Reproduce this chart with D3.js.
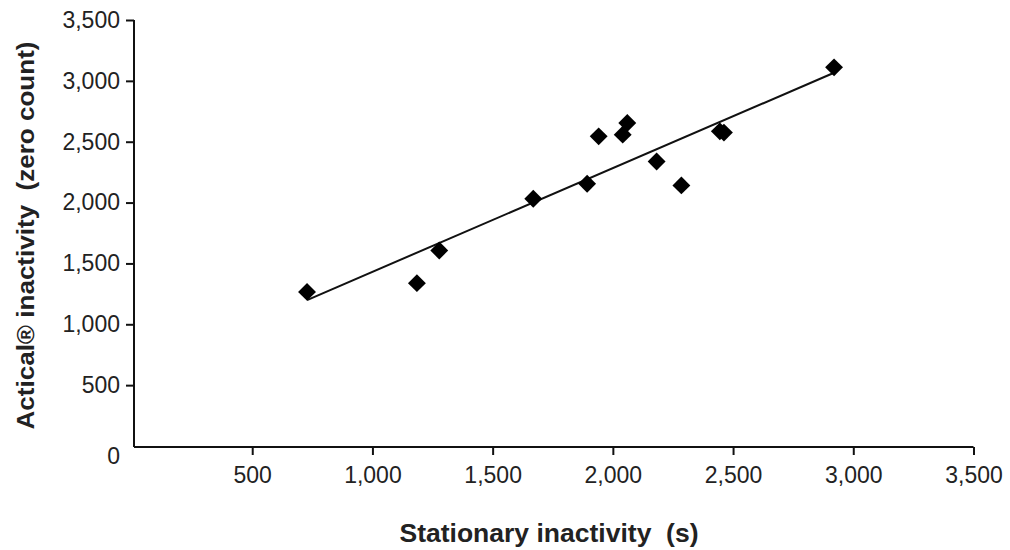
<!DOCTYPE html>
<html lang="en">
<head>
    <meta charset="UTF-8">
    <title>Actical vs stationary inactivity</title>
    <script src="https://unpkg.com/d3@7.8.5/dist/d3.min.js"></script>
    <style>
        body { margin: 0; background: #fff; }
        text { font-family: "Liberation Sans", Arial, sans-serif; fill: #222; }
    </style>
</head>
<body>
    <svg width="1010" height="550"></svg>
    <script>
        // data
        var stationary = [728, 1185, 1278, 1669, 1893, 1941, 2041, 2060, 2182, 2285, 2445, 2462, 2920]
        var actical = [1266, 1338, 1606, 2031, 2155, 2544, 2558, 2654, 2338, 2141, 2585, 2575, 3111]
        var xTicks = [500, 1000, 1500, 2000, 2500, 3000, 3500]
        var yTicks = [0, 500, 1000, 1500, 2000, 2500, 3000, 3500]

        var svg = d3.select('svg')

        var x = d3.scaleLinear().domain([0, 3500]).range([132, 973.5])
        var y = d3.scaleLinear().domain([0, 3500]).range([446, 20])
        var fmt = d3.format(',')

        // axes
        var gx = svg.append('g').attr('transform', 'translate(0,447)')
            .call(d3.axisBottom(x).tickValues(xTicks).tickFormat(fmt).tickSize(8).tickPadding(12).tickSizeOuter(0))
        gx.select('.domain').attr('d', 'M134,0H' + x(3500))
        var gy = svg.append('g').attr('transform', 'translate(134,0)')
            .call(d3.axisLeft(y).tickValues(yTicks).tickFormat(fmt).tickSize(8).tickPadding(6).tickSizeOuter(0))
        gy.select('.domain').attr('d', 'M0,' + y(3500) + 'V447')
        // no tick mark at 0, its label sits a bit lower
        gy.selectAll('.tick').filter(d => d === 0).select('line').remove()
        gy.selectAll('.tick').filter(d => d === 0).select('text').attr('dy', '0.78em')

        svg.selectAll('.domain, .tick line').attr('stroke', '#111').attr('stroke-width', 2)
        svg.selectAll('.tick text').attr('font-size', 23).attr('fill', '#222')
            .attr('font-family', '"Liberation Sans", Arial, sans-serif')

        // regression line
        var pts = stationary.map((v, i) => [v, actical[i]])
        var mx = d3.mean(stationary), my = d3.mean(actical)
        var slope = d3.sum(pts, p => (p[0] - mx) * (p[1] - my)) / d3.sum(pts, p => (p[0] - mx) * (p[0] - mx))
        var icpt = my - slope * mx
        var ext = d3.extent(stationary)
        svg.append('path')
            .attr('d', d3.line().x(d => x(d)).y(d => y(icpt + slope * d))(ext))
            .attr('stroke', '#111').attr('stroke-width', 2).attr('fill', 'none')

        // points (diamonds)
        svg.selectAll('.pt').data(pts).enter()
            .append('path')
            .attr('class', 'pt')
            .attr('d', d3.symbol().type(d3.symbolSquare).size(160))
            .attr('transform', d => 'translate(' + x(d[0]) + ',' + y(d[1]) + ') rotate(45)')
            .attr('fill', '#000')

        // axis titles
        svg.append('text')
            .attr('x', 549).attr('y', 541.5)
            .attr('text-anchor', 'middle')
            .attr('font-size', 25).attr('font-weight', 'bold')
            .attr('textLength', 299).attr('lengthAdjust', 'spacingAndGlyphs')
            .style('white-space', 'pre')
            .text('Stationary inactivity  (s)')

        svg.append('text')
            .attr('transform', 'translate(34,235.5) rotate(-90)')
            .attr('text-anchor', 'middle')
            .attr('font-size', 24).attr('font-weight', 'bold')
            .attr('textLength', 388).attr('lengthAdjust', 'spacingAndGlyphs')
            .style('white-space', 'pre')
            .text('Actical\u00ae inactivity  (zero count)')
    </script>
</body>
</html>
